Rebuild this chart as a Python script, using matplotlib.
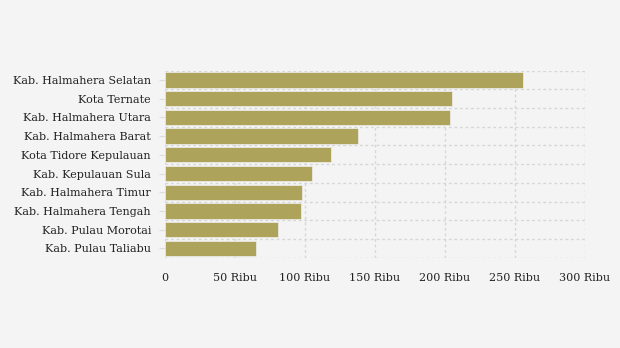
import matplotlib.pyplot as plt
import numpy as np

# data (ribu)
regions = [
    'Kab. Halmahera Selatan',
    'Kota Ternate',
    'Kab. Halmahera Utara',
    'Kab. Halmahera Barat',
    'Kota Tidore Kepulauan',
    'Kab. Kepulauan Sula',
    'Kab. Halmahera Timur',
    'Kab. Halmahera Tengah',
    'Kab. Pulau Morotai',
    'Kab. Pulau Taliabu',
]
values = [255.7, 205.0, 203.6, 137.9, 118.6, 105.0, 97.9, 97.1, 80.7, 65.0]
xticks = [0, 50, 100, 150, 200, 250, 300]
xtick_labels = ['0', '50 Ribu', '100 Ribu', '150 Ribu', '200 Ribu', '250 Ribu', '300 Ribu']

bg = '#f4f4f4'
bar_color = '#ada35b'
grid_color = '#d6d6d6'

plt.rcParams['font.family'] = 'DejaVu Serif'

fig = plt.figure(figsize=(6.2, 3.48), dpi=100, facecolor=bg)
ax = fig.add_axes([0.266, 0.2595, 0.6775, 0.5375])
ax.set_facecolor(bg)

y = np.arange(len(regions))
ax.barh(y, values, height=0.82, color=bar_color, edgecolor='#f0f0f0', linewidth=0.5, zorder=2)

ax.set_xlim(0, 300)
ax.set_ylim(len(regions) - 0.5, -0.5)

ax.set_xticks(xticks)
ax.set_xticklabels(xtick_labels, fontsize=8, color='#222222')
ax.set_yticks(y)
ax.set_yticklabels(regions, fontsize=8, color='#222222')
ax.set_yticks(np.arange(-0.5, len(regions), 1.0), minor=True)

ax.tick_params(axis='x', length=0, pad=11)
ax.tick_params(axis='y', which='major', length=4, color='#dddddd', pad=6)
ax.tick_params(axis='y', which='minor', length=0)

ax.grid(axis='x', which='major', color=grid_color, linestyle=(0, (2, 2)), linewidth=1, zorder=0)
ax.grid(axis='y', which='minor', color=grid_color, linestyle=(0, (2, 2)), linewidth=1, zorder=0)
ax.grid(axis='y', which='major', visible=False)

for s in ax.spines.values():
    s.set_visible(False)

fig.savefig('out.png', dpi=100, facecolor=bg)
